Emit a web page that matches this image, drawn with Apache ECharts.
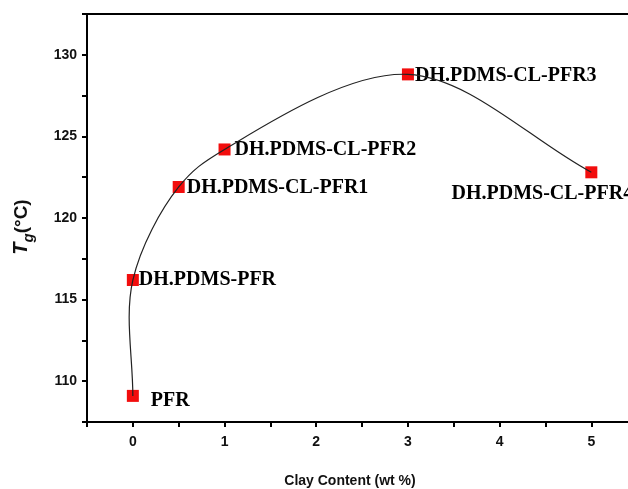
<!DOCTYPE html>
<html>
<head>
<meta charset="utf-8">
<script src="https://cdn.jsdelivr.net/npm/echarts@6/dist/echarts.min.js"></script>
<style>
  html, body { margin: 0; padding: 0; background: #fff; }
  #chart { width: 628px; height: 489px; }
</style>
</head>
<body>
<div id="chart"></div>
<script>
// Glass transition temperature vs. clay loading
const clayContent = [0, 0, 0.5, 1, 3, 5];
const tgValues = [109.1, 116.2, 121.9, 124.2, 128.8, 122.8];
const sampleNames = ['PFR', 'DH.PDMS-PFR', 'DH.PDMS-CL-PFR1', 'DH.PDMS-CL-PFR2', 'DH.PDMS-CL-PFR3', 'DH.PDMS-CL-PFR4'];

// Label placement per sample (offsets in px from the marker)
const labelPlacement = [
  { position: 'right', offset: [8, 5] },
  { position: 'right', offset: [-4, 0] },
  { position: 'right', offset: [-2, 1] },
  { position: 'right', offset: [0, 0] },
  { position: 'right', offset: [-3, 1] },
  { position: 'bottom', offset: [-49, 2] }
];

const points = clayContent.map((x, i) => [x, tgValues[i]]);

// Centripetal Catmull-Rom spline through the points, in pixel space
function splinePath(px) {
  const n = px.length;
  const ext = [
    [2 * px[0][0] - px[1][0], 2 * px[0][1] - px[1][1]],
    ...px,
    [2 * px[n - 1][0] - px[n - 2][0], 2 * px[n - 1][1] - px[n - 2][1]]
  ];
  const dist = (a, b) => Math.max(1e-6, Math.sqrt(Math.hypot(a[0] - b[0], a[1] - b[1])));
  let d = 'M' + px[0][0] + ',' + px[0][1];
  for (let i = 1; i < ext.length - 2; i++) {
    const p0 = ext[i - 1], p1 = ext[i], p2 = ext[i + 1], p3 = ext[i + 2];
    const d1 = dist(p0, p1), d2 = dist(p1, p2), d3 = dist(p2, p3);
    const b1 = [0, 1].map(k => (d1 * d1 * p2[k] - d2 * d2 * p0[k] + (2 * d1 * d1 + 3 * d1 * d2 + d2 * d2) * p1[k]) / (3 * d1 * (d1 + d2)));
    const b2 = [0, 1].map(k => (d3 * d3 * p1[k] - d2 * d2 * p3[k] + (2 * d3 * d3 + 3 * d3 * d2 + d2 * d2) * p2[k]) / (3 * d3 * (d3 + d2)));
    d += ' C' + b1[0] + ',' + b1[1] + ' ' + b2[0] + ',' + b2[1] + ' ' + p2[0] + ',' + p2[1];
  }
  return d;
}

const chart = echarts.init(document.getElementById('chart'), null, { renderer: 'canvas' });

const axisFont = {
  fontFamily: 'Liberation Sans, Arial, sans-serif',
  fontWeight: 'bold',
  fontSize: 14,
  color: '#111'
};
const nameFont = 'Liberation Sans, Arial, sans-serif';

chart.setOption({
  animation: false,
  backgroundColor: '#fff',
  grid: {
    left: 87,
    right: 0,
    top: 14,
    bottom: 67,
    outerBoundsMode: 'none'
  },
  xAxis: [
    {
      type: 'value',
      min: -0.5,
      max: 5.4,
      interval: 0.5,
      name: 'Clay Content (wt %)',
      nameLocation: 'middle',
      nameGap: 52,
      nameTextStyle: Object.assign({}, axisFont, { fontSize: 14, padding: [0, 15, 0, 0] }),
      axisLine: { show: true, onZero: false, lineStyle: { color: '#000', width: 2 } },
      axisTick: { show: true, length: 5, lineStyle: { color: '#000', width: 2 } },
      axisLabel: Object.assign({}, axisFont, {
        margin: 13,
        showMaxLabel: false,
        formatter: v => (Number.isInteger(v) && v >= 0 ? String(v) : '')
      }),
      splitLine: { show: false }
    },
    {
      // top frame line
      type: 'value',
      position: 'top',
      min: -0.5,
      max: 5.4,
      axisLine: { show: true, onZero: false, lineStyle: { color: '#000', width: 2 } },
      axisTick: { show: false },
      axisLabel: { show: false },
      splitLine: { show: false }
    }
  ],
  yAxis: {
    type: 'value',
    min: 107.5,
    max: 132.5,
    interval: 2.5,
    name: '{t|T}{g|g}{c|(°C)}',
    nameLocation: 'middle',
    nameGap: 56,
    nameRotate: 90,
    nameTextStyle: {
      padding: [0, 18, 0, 0],
      rich: {
        t: { fontFamily: nameFont, fontWeight: 'bold', fontStyle: 'italic', fontSize: 20, color: '#111', lineHeight: 24, verticalAlign: 'bottom' },
        g: { fontFamily: nameFont, fontWeight: 'bold', fontStyle: 'italic', fontSize: 15, color: '#111', lineHeight: 24, verticalAlign: 'bottom', padding: [0, 0, -5, 0] },
        c: { fontFamily: nameFont, fontWeight: 'bold', fontSize: 19, color: '#111', lineHeight: 24, verticalAlign: 'bottom' }
      }
    },
    axisLine: { show: true, onZero: false, lineStyle: { color: '#000', width: 2 } },
    axisTick: { show: true, length: 5, lineStyle: { color: '#000', width: 2 } },
    axisLabel: Object.assign({}, axisFont, {
      margin: 10,
      formatter: v => (v % 5 === 0 ? String(v) : '')
    }),
    splitLine: { show: false }
  },
  series: [
    {
      type: 'scatter',
      symbol: 'rect',
      symbolSize: 12,
      itemStyle: { color: '#f20d0d', opacity: 1 },
      z: 2,
      data: points.map((p, i) => ({
        value: p,
        name: sampleNames[i],
        label: {
          show: true,
          formatter: sampleNames[i],
          position: labelPlacement[i].position,
          offset: labelPlacement[i].offset,
          distance: 4,
          fontFamily: 'Liberation Serif, Times New Roman, serif',
          fontWeight: 'bold',
          fontSize: 20,
          color: '#000',
          opacity: 1
        }
      }))
    },
    {
      // smooth curve through all samples
      type: 'custom',
      coordinateSystem: 'cartesian2d',
      data: [0],
      z: 3,
      silent: true,
      renderItem: (params, api) => {
        const px = points.map(p => api.coord(p));
        return {
          type: 'path',
          shape: { pathData: splinePath(px) },
          style: { fill: null, stroke: '#222', lineWidth: 1.2 }
        };
      }
    }
  ]
});
</script>
</body>
</html>
